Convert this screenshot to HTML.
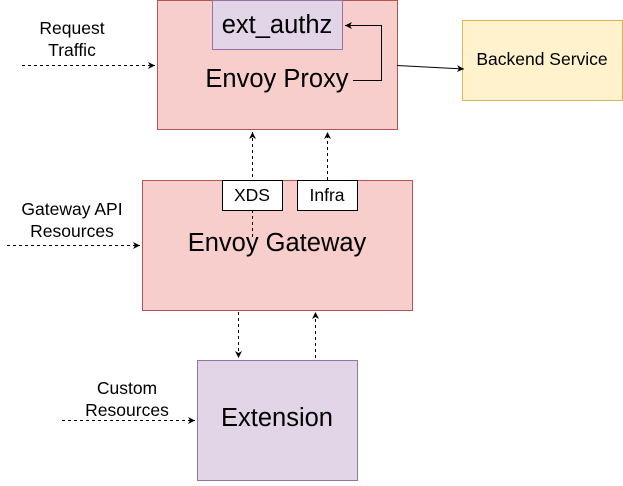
<!DOCTYPE html>
<html><head><style>body{margin:0;background:#fff}</style></head><body>
<svg width="623" height="481" xmlns="http://www.w3.org/2000/svg" font-family="Liberation Sans, Arial, sans-serif">
<defs><marker id="a" markerWidth="8" markerHeight="8" refX="7" refY="4" orient="auto" markerUnits="userSpaceOnUse"><path d="M0,0.5 L7,4 L0,7.5 L2,4 Z" fill="#000"/></marker></defs>
<rect x="157.5" y="0.5" width="240" height="129" fill="#f8cecc" stroke="#b85450"/>
<rect x="212.5" y="0.5" width="130" height="49" fill="#e1d5e7" stroke="#9673a6"/>
<text x="277" y="33" font-size="25.5" text-anchor="middle">ext_authz</text>
<text x="277" y="87" font-size="25.5" text-anchor="middle">Envoy Proxy</text>
<path d="M353,80.5 H381.5 V25.5 H345" fill="none" stroke="#000" marker-end="url(#a)"/>
<rect x="462.5" y="20.5" width="160" height="80" fill="#fff2cc" stroke="#d6b656"/>
<text x="542" y="65" font-size="17.5" text-anchor="middle">Backend Service</text>
<path d="M397,65.5 L464,69" stroke="#000" marker-end="url(#a)"/>
<rect x="142.5" y="180.5" width="270" height="130" fill="#f8cecc" stroke="#b85450"/>
<text x="277" y="251" font-size="25.5" text-anchor="middle">Envoy Gateway</text>
<path d="M252.5,237 V132" stroke="#000" stroke-dasharray="3,3" marker-end="url(#a)"/>
<path d="M327.5,180 V132" stroke="#000" stroke-dasharray="3,3" marker-end="url(#a)"/>
<rect x="222.5" y="180.5" width="60" height="30" fill="#fff" stroke="#000"/>
<text x="252" y="201" font-size="17.5" text-anchor="middle">XDS</text>
<rect x="297.5" y="180.5" width="60" height="30" fill="#fff" stroke="#000"/>
<text x="327" y="201" font-size="17.5" text-anchor="middle">Infra</text>
<rect x="197.5" y="360.5" width="160" height="120" fill="#e1d5e7" stroke="#9673a6"/>
<text x="277" y="426" font-size="25.5" text-anchor="middle">Extension</text>
<path d="M238.5,312 V358" stroke="#000" stroke-dasharray="3,3" marker-end="url(#a)"/>
<path d="M315.5,358 V312" stroke="#000" stroke-dasharray="3,3" marker-end="url(#a)"/>
<path d="M22,65.5 H155" stroke="#000" stroke-dasharray="3,3" marker-end="url(#a)"/>
<path d="M7,245.5 H140" stroke="#000" stroke-dasharray="3,3" marker-end="url(#a)"/>
<path d="M62,420.5 H195" stroke="#000" stroke-dasharray="3,3" marker-end="url(#a)"/>
<g font-size="17.5" text-anchor="middle">
<text x="72" y="34">Request</text><text x="72" y="56">Traffic</text>
<text x="72" y="215">Gateway API</text><text x="72" y="237">Resources</text>
<text x="127" y="394">Custom</text><text x="127" y="416">Resources</text>
</g>
</svg>
</body></html>
